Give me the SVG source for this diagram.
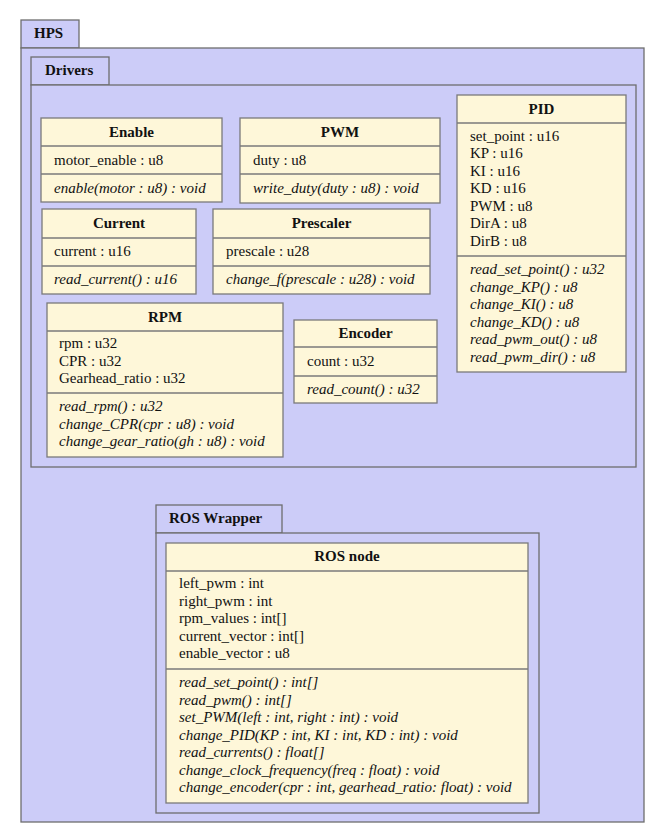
<svg xmlns="http://www.w3.org/2000/svg" width="665" height="838" viewBox="0 0 665 838">
<style>
.pkg{fill:#ccccf8;stroke:#6e6e6e;stroke-width:1.3}
.cls{fill:#fef7d9;stroke:#7a7a7a;stroke-width:1.3}
.div{stroke:#7a7a7a;stroke-width:1.3}
text{font-size:15px;fill:#111}
.t{font-weight:bold;text-anchor:middle}
.pt{font-weight:bold}
.m{font-style:italic}
</style>
<rect width="665" height="838" fill="#fff"/>
<g font-family="'Liberation Serif', 'DejaVu Serif', serif">
<g id="HPS">
<rect class="pkg" x="21" y="20" width="58" height="28"/>
<rect class="pkg" x="21" y="48" width="623" height="774"/>
<text class="pt" x="34" y="38">HPS</text>
</g>
<g id="Drivers">
<rect class="pkg" x="31" y="57" width="78" height="28"/>
<rect class="pkg" x="31" y="85" width="605" height="382"/>
<text class="pt" x="45" y="75">Drivers</text>
</g>
<g id="Enable">
<rect class="cls" x="41" y="118" width="181" height="84"/>
<line class="div" x1="41" y1="146" x2="222" y2="146"/>
<line class="div" x1="41" y1="174" x2="222" y2="174"/>
<text class="t" x="131.5" y="137">Enable</text>
<text x="54" y="165">motor_enable : u8</text>
<text class="m" x="54" y="193">enable(motor : u8) : void</text>
</g>
<g id="PWM">
<rect class="cls" x="240" y="118" width="200" height="85"/>
<line class="div" x1="240" y1="146" x2="440" y2="146"/>
<line class="div" x1="240" y1="174" x2="440" y2="174"/>
<text class="t" x="340" y="137">PWM</text>
<text x="253" y="165">duty : u8</text>
<text class="m" x="253" y="193">write_duty(duty : u8) : void</text>
</g>
<g id="PID">
<rect class="cls" x="457" y="95" width="169" height="277"/>
<line class="div" x1="457" y1="123" x2="626" y2="123"/>
<line class="div" x1="457" y1="256" x2="626" y2="256"/>
<text class="t" x="541.5" y="114">PID</text>
<text x="470" y="140.5">set_point : u16</text>
<text x="470" y="158">KP : u16</text>
<text x="470" y="175.5">KI : u16</text>
<text x="470" y="193">KD : u16</text>
<text x="470" y="210.5">PWM : u8</text>
<text x="470" y="228">DirA : u8</text>
<text x="470" y="245.5">DirB : u8</text>
<text class="m" x="470" y="274">read_set_point() : u32</text>
<text class="m" x="470" y="291.5">change_KP() : u8</text>
<text class="m" x="470" y="309">change_KI() : u8</text>
<text class="m" x="470" y="326.5">change_KD() : u8</text>
<text class="m" x="470" y="344">read_pwm_out() : u8</text>
<text class="m" x="470" y="361.5">read_pwm_dir() : u8</text>
</g>
<g id="Current">
<rect class="cls" x="42" y="209" width="154" height="85"/>
<line class="div" x1="42" y1="238" x2="196" y2="238"/>
<line class="div" x1="42" y1="266" x2="196" y2="266"/>
<text class="t" x="119" y="228">Current</text>
<text x="54" y="256">current : u16</text>
<text class="m" x="54" y="284">read_current() : u16</text>
</g>
<g id="Prescaler">
<rect class="cls" x="213" y="209" width="217" height="85"/>
<line class="div" x1="213" y1="238" x2="430" y2="238"/>
<line class="div" x1="213" y1="266" x2="430" y2="266"/>
<text class="t" x="321.5" y="228">Prescaler</text>
<text x="226" y="256">prescale : u28</text>
<text class="m" x="226" y="284">change_f(prescale : u28) : void</text>
</g>
<g id="RPM">
<rect class="cls" x="47" y="303" width="236" height="154"/>
<line class="div" x1="47" y1="331" x2="283" y2="331"/>
<line class="div" x1="47" y1="393" x2="283" y2="393"/>
<text class="t" x="165" y="322">RPM</text>
<text x="59" y="348">rpm : u32</text>
<text x="59" y="365.5">CPR : u32</text>
<text x="59" y="383">Gearhead_ratio : u32</text>
<text class="m" x="59" y="411">read_rpm() : u32</text>
<text class="m" x="59" y="428.5">change_CPR(cpr : u8) : void</text>
<text class="m" x="59" y="446">change_gear_ratio(gh : u8) : void</text>
</g>
<g id="Encoder">
<rect class="cls" x="294" y="320" width="143" height="83"/>
<line class="div" x1="294" y1="347" x2="437" y2="347"/>
<line class="div" x1="294" y1="376" x2="437" y2="376"/>
<text class="t" x="365.5" y="338">Encoder</text>
<text x="307" y="366">count : u32</text>
<text class="m" x="307" y="394">read_count() : u32</text>
</g>
<g id="ROS_Wrapper">
<rect class="pkg" x="156" y="505" width="126" height="28"/>
<rect class="pkg" x="156" y="533" width="383" height="280"/>
<text class="pt" x="169" y="523">ROS Wrapper</text>
</g>
<g id="ROS_node">
<rect class="cls" x="166" y="543" width="362" height="260"/>
<line class="div" x1="166" y1="571" x2="528" y2="571"/>
<line class="div" x1="166" y1="669" x2="528" y2="669"/>
<text class="t" x="347" y="561">ROS node</text>
<text x="179" y="588">left_pwm : int</text>
<text x="179" y="605.5">right_pwm : int</text>
<text x="179" y="623">rpm_values : int[]</text>
<text x="179" y="640.5">current_vector : int[]</text>
<text x="179" y="658">enable_vector : u8</text>
<text class="m" x="179" y="687">read_set_point() : int[]</text>
<text class="m" x="179" y="704.5">read_pwm() : int[]</text>
<text class="m" x="179" y="722">set_PWM(left : int, right : int) : void</text>
<text class="m" x="179" y="739.5">change_PID(KP : int, KI : int, KD : int) : void</text>
<text class="m" x="179" y="757">read_currents() : float[]</text>
<text class="m" x="179" y="774.5">change_clock_frequency(freq : float) : void</text>
<text class="m" x="179" y="792">change_encoder(cpr : int, gearhead_ratio: float) : void</text>
</g>
</g>
<g id="connectors"/>
</svg>
